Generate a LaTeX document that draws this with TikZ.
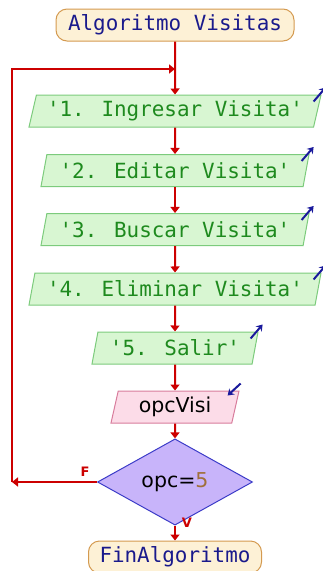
\documentclass[tikz,border=0pt]{standalone}
\usepackage{fontspec}
\setmainfont{DejaVu Sans}
\newfontfamily\monofont{DejaVu Sans Mono}
\usetikzlibrary{shapes.geometric,arrows.meta,calc}
\definecolor{flowred}{HTML}{CC0000}
\definecolor{termfill}{HTML}{FDF1D6}
\definecolor{termdraw}{HTML}{D49A50}
\definecolor{termtext}{HTML}{1A1A8C}
\definecolor{outfill}{HTML}{D8F6D2}
\definecolor{outdraw}{HTML}{7CCB7C}
\definecolor{outtext}{HTML}{1E8A1E}
\definecolor{infill}{HTML}{FCDCE8}
\definecolor{indraw}{HTML}{D87C9C}
\definecolor{decfill}{HTML}{C8B4FA}
\definecolor{decdraw}{HTML}{3C3CC8}
\definecolor{numbrown}{HTML}{A0703A}
\definecolor{ioarrow}{HTML}{1A1A9C}
\begin{document}
\begin{tikzpicture}[x=1pt,y=-1pt,
  termbox/.style={draw=termdraw, fill=termfill, rounded corners=11pt, line width=1pt,
    minimum height=32pt, inner sep=0pt, text=termtext,
    font=\monofont\fontsize{20.9}{24}\selectfont},
  para/.style={trapezium, trapezium left angle=70, trapezium right angle=110,
    trapezium stretches body, line width=1pt, minimum height=32pt, inner sep=0pt},
  outbox/.style={para, draw=outdraw, fill=outfill, text=outtext,
    font=\monofont\fontsize{20.9}{24}\selectfont},
  inbox/.style={para, draw=indraw, fill=infill, text=black,
    font=\fontsize{20.5}{24}\selectfont},
  decbox/.style={diamond, draw=decdraw, fill=decfill, line width=1pt, inner sep=0pt,
    minimum width=155pt, minimum height=63pt, font=\fontsize{20.5}{24}\selectfont},
  flow/.style={draw=flowred, line width=2pt, -{Triangle[width=9pt,length=6pt]}},
  ioarr/.style={draw=ioarrow, line width=2pt, -{Stealth[width=8pt,length=6pt]}},
  lbl/.style={text=flowred, font=\bfseries\fontsize{13}{15}\selectfont, inner sep=0pt}
]
\useasboundingbox (0,0) rectangle (323,571);

\node[termbox, minimum width=238pt] (start) at (175,25) {Algoritmo Visitas};
\node[outbox, minimum width=292pt] (p1) at (175,111) {'1. Ingresar Visita'};
\node[outbox, minimum width=268pt] (p2) at (175,170.5) {'2. Editar Visita'};
\node[outbox, minimum width=268pt] (p3) at (175,229.5) {'3. Buscar Visita'};
\node[outbox, minimum width=292pt] (p4) at (175,289) {'4. Eliminar Visita'};
\node[outbox, minimum width=166pt] (p5) at (175,348) {'5. Salir'};
\node[inbox, minimum width=128pt] (inp) at (175,407) {opcVisi};
\node[decbox] (dec) at (175,482) {opc=\textcolor{numbrown}{5}};
\node[termbox, minimum width=173pt] (fin) at (175,557) {FinAlgoritmo};

\draw[flow] (start.south) -- (p1.north);
\draw[flow] (p1.south) -- (p2.north);
\draw[flow] (p2.south) -- (p3.north);
\draw[flow] (p3.south) -- (p4.north);
\draw[flow] (p4.south) -- (p5.north);
\draw[flow] (p5.south) -- (inp.north);
\draw[flow] (inp.south) -- (dec.north);
\draw[flow] (dec.south) -- (fin.north);

\coordinate (lb) at (12,482);
\coordinate (lt) at (12,69);
\coordinate (lj) at (175,69);
\draw[flow] (dec.west) -- (lb);
\draw[flow] (lb) -- (lt) -- (lj);

\node[lbl] (flbl) at (85,472) {F};
\node[lbl] (vlbl) at (187,523) {V};

\foreach \p in {p1,p2,p3,p4,p5}{
  \draw[ioarr] ($(\p.top right corner)+(-8,7)$) -- ++(12,-14);
}
\draw[ioarr] ($(inp.top right corner)+(1,-7)$) -- ++(-13,12);
\end{tikzpicture}
\end{document}
